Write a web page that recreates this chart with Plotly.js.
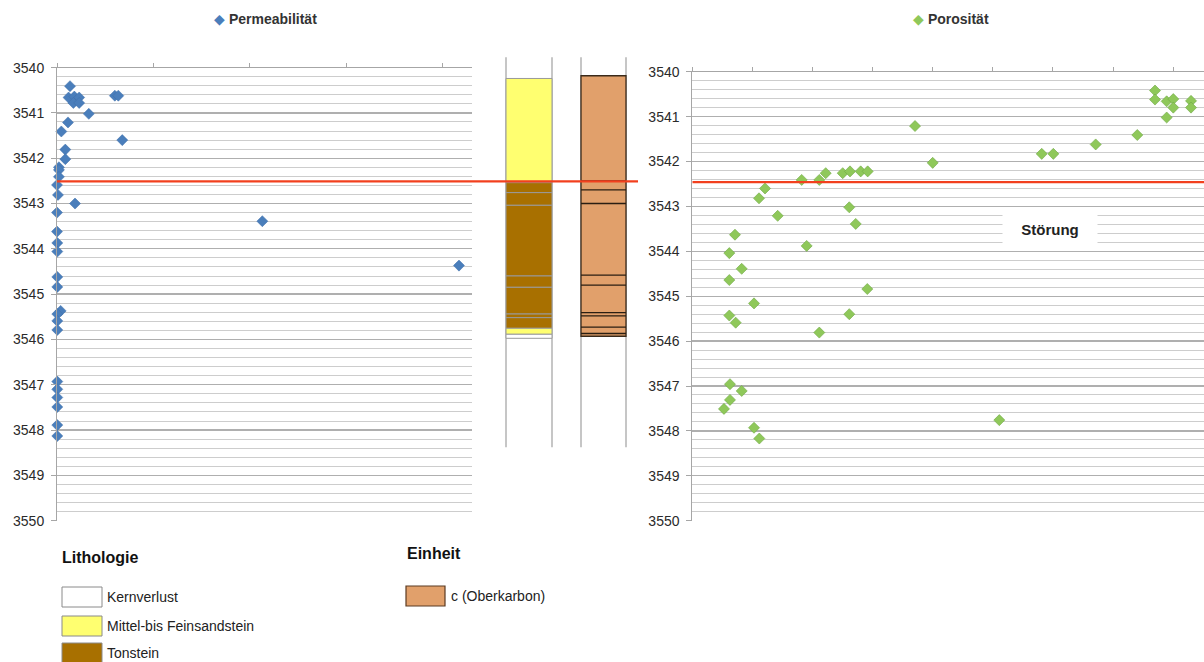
<!DOCTYPE html>
<html><head><meta charset="utf-8">
<script src="https://cdn.plot.ly/plotly-3.0.1.min.js"></script>
<style>html,body{margin:0;padding:0;background:#fff}#chart{width:1204px;height:662px}</style>
</head><body><div id="chart"></div>
<script>
// ---------- DATA ----------
// Permeabilität (x in axis tick units, depth in m)
const permX = [0.135,0.12,0.18,0.23,0.17,0.23,0.60,0.636,0.33,0.114,0.045,0.677,0.086,0.086,0.02,0.02,0.02,0.0,0.01,0.187,0.0,2.13,0.0,0.003,0.003,4.17,0.003,0.003,0.038,0.003,0.003,0.003,0.003,0.003,0.003,0.003,0.003,0.003];
const permDepth = [3540.41,3540.66,3540.64,3540.66,3540.78,3540.78,3540.62,3540.62,3541.02,3541.21,3541.41,3541.60,3541.81,3542.02,3542.20,3542.26,3542.41,3542.59,3542.81,3543.00,3543.20,3543.39,3543.62,3543.87,3544.06,3544.37,3544.62,3544.84,3545.37,3545.44,3545.59,3545.79,3546.93,3547.10,3547.28,3547.49,3547.89,3548.13];
// Porosität
const poroX = [3.706,4.0,1.820,2.113,2.220,2.503,2.624,2.802,2.918,1.210,1.110,1.421,2.612,2.719,0.710,1.903,0.616,0.822,0.616,2.912,1.027,0.616,0.722,2.612,2.113,0.627,0.822,0.627,0.527,1.027,1.115,5.108,5.814,6.007,6.712,7.404,7.699,7.699,7.893,8.003,8.003,7.893,8.298,8.298];
const poroDepth = [3541.21,3542.03,3542.41,3542.41,3542.26,3542.26,3542.22,3542.22,3542.22,3542.60,3542.82,3543.21,3543.02,3543.39,3543.63,3543.88,3544.04,3544.39,3544.64,3544.84,3545.16,3545.43,3545.59,3545.40,3545.81,3546.96,3547.11,3547.31,3547.51,3547.93,3548.17,3547.76,3541.83,3541.83,3541.62,3541.41,3540.42,3540.62,3540.66,3540.61,3540.80,3541.02,3540.65,3540.80];
// Lithologie column
const lithoTop  = [3540.24,3542.54,3542.76,3543.04,3544.60,3544.85,3545.44,3545.52,3545.755,3545.887];
const lithoBase = [3542.54,3542.76,3543.04,3544.60,3544.85,3545.44,3545.52,3545.755,3545.887,3545.976];
const lithoType = ['Mittel-bis Feinsandstein','Tonstein','Tonstein','Tonstein','Tonstein','Tonstein','Tonstein','Tonstein','Mittel-bis Feinsandstein','Kernverlust'];
// Einheit column boundaries
const unitBounds = [3540.18,3542.50,3542.70,3543.00,3544.58,3544.80,3545.41,3545.48,3545.73,3545.87,3545.93];
const unitName = 'c (Oberkarbon)';
// Fault (Störung) depth
const faultDepthLeft = 3542.51;
const faultDepthRight = 3542.46;
const faultLabel = 'Störung';
const depthTicks = [3540,3541,3542,3543,3544,3545,3546,3547,3548,3549,3550];
const lithoLegend = ['Kernverlust','Mittel-bis Feinsandstein','Tonstein'];

// ---------- STYLE ----------
const W = 1204, H = 662;
const px = v => v / W, py = v => 1 - v / H;
const colors = {
  'Kernverlust': '#FFFFFF',
  'Mittel-bis Feinsandstein': '#FFFF70',
  'Tonstein': '#A87000'
};
const unitColor = '#E1A06B';
const blue = '#4A7EBB', green = '#8FC85A';
const fontFam = 'Liberation Sans, Arial, sans-serif';

// column geometry (x3 axis in page pixels)
const col1 = [506, 552], col2 = [581, 626];
const yPxTop = 67.6, mPx = 45.3;
const y3Top = 55, y3Bot = 450;
const y3Range = [3540 + (y3Bot - yPxTop) / mPx, 3540 + (y3Top - yPxTop) / mPx];

const traces = [
  {type:'scatter', mode:'markers', x:permX, y:permDepth, xaxis:'x', yaxis:'y', cliponaxis:false,
   marker:{symbol:'diamond', size:8.5, color:blue, line:{color:'#3F6FA8', width:0.5}}, hoverinfo:'x+y'},
  {type:'scatter', mode:'markers', x:poroX, y:poroDepth, xaxis:'x2', yaxis:'y2', cliponaxis:false,
   marker:{symbol:'diamond', size:8.5, color:green, line:{color:'#6FA744', width:0.6}}, hoverinfo:'x+y'},
  {type:'scatter', mode:'markers', x:[col1[0]], y:[y3Range[1]], xaxis:'x3', yaxis:'y3', marker:{opacity:0}, hoverinfo:'skip'}
];

const shapes = [];
[col1[0], col1[1], col2[0], col2[1]].forEach(x => {
  shapes.push({type:'line', xref:'x3', yref:'y3', x0:x, x1:x, y0:3539.77, y1:3548.38, line:{color:'#A0A0A0', width:1.2}});
});
lithoTop.forEach((t, i) => {
  shapes.push({type:'rect', xref:'x3', yref:'y3', x0:col1[0], x1:col1[1], y0:t, y1:lithoBase[i],
    fillcolor:colors[lithoType[i]], line:{color:'#9A9A9A', width:1}});
});
shapes.push({type:'rect', xref:'x3', yref:'y3', x0:col2[0], x1:col2[1], y0:unitBounds[0], y1:unitBounds[unitBounds.length-1],
  fillcolor:unitColor, line:{color:'#3A2A1A', width:1.3}});
unitBounds.slice(1, -1).forEach(d => {
  shapes.push({type:'line', xref:'x3', yref:'y3', x0:col2[0], x1:col2[1], y0:d, y1:d, line:{color:'#2A1E12', width:1.3}});
});
shapes.push({type:'line', xref:'x3', yref:'y3', x0:57, x1:638, y0:faultDepthLeft, y1:faultDepthLeft, line:{color:'#F2401E', width:2.2}});
shapes.push({type:'line', xref:'x2', yref:'y2', x0:0, x1:8.6, y0:faultDepthRight, y1:faultDepthRight, line:{color:'#F2401E', width:2.2}});
const legY = [587, 616, 643];
lithoLegend.forEach((n, i) => {
  shapes.push({type:'rect', xref:'paper', yref:'paper', x0:px(62), x1:px(102), y0:py(legY[i]), y1:py(legY[i] + 20),
    fillcolor:colors[n], line:{color:'#8A8A8A', width:1}});
});
shapes.push({type:'rect', xref:'paper', yref:'paper', x0:px(406), x1:px(445), y0:py(586), y1:py(606),
  fillcolor:unitColor, line:{color:'#5A3A22', width:1.2}});

const annotations = [
  {xref:'paper', yref:'paper', x:px(265), y:py(19), xanchor:'center', yanchor:'middle', showarrow:false,
   text:'<span style="color:'+blue+'">◆</span> <b>Permeabilität</b>', font:{family:fontFam, size:14, color:'#333'}},
  {xref:'paper', yref:'paper', x:px(951), y:py(19), xanchor:'center', yanchor:'middle', showarrow:false,
   text:'<span style="color:'+green+'">◆</span> <b>Porosität</b>', font:{family:fontFam, size:14, color:'#333'}},
  {xref:'x2', yref:'y2', x:5.95, y:3543.51, showarrow:false, text:'<b>'+faultLabel+'</b>',
   font:{family:fontFam, size:15, color:'#222'}, bgcolor:'#FFFFFF', width:90, height:29, borderpad:2},
  {xref:'paper', yref:'paper', x:px(60), y:py(557), xanchor:'left', yanchor:'middle', showarrow:false,
   text:'<b>Lithologie</b>', font:{family:fontFam, size:16, color:'#111'}},
  {xref:'paper', yref:'paper', x:px(405), y:py(553), xanchor:'left', yanchor:'middle', showarrow:false,
   text:'<b>Einheit</b>', font:{family:fontFam, size:16, color:'#111'}},
  {xref:'paper', yref:'paper', x:px(449), y:py(596), xanchor:'left', yanchor:'middle', showarrow:false,
   text:unitName, font:{family:fontFam, size:14, color:'#222'}}
];
lithoLegend.forEach((n, i) => {
  annotations.push({xref:'paper', yref:'paper', x:px(105), y:py(legY[i] + 10), xanchor:'left', yanchor:'middle', showarrow:false,
    text:n, font:{family:fontFam, size:14, color:'#222'}});
});

const yAxisCommon = {
  range:[3550, 3540], autorange:false, tickvals:depthTicks, showline:true, linecolor:'#A6A6A6', linewidth:1,
  ticks:'outside', ticklen:5, tickcolor:'#A6A6A6', showgrid:true, gridcolor:'#AFAFAF', gridwidth:1.3, zeroline:false,
  tickfont:{family:fontFam, size:14, color:'#2A2A2A'}, ticklabelstandoff:4,
  minor:{dtick:0.2, tick0:3540, showgrid:true, gridcolor:'#CDCDCD', gridwidth:1, ticks:''}
};
const xAxisCommon = {
  side:'top', showgrid:false, zeroline:false, showline:true, linecolor:'#A6A6A6', linewidth:1,
  ticks:'outside', ticklen:4, tickcolor:'#A6A6A6', dtick:1, tick0:0, showticklabels:false, autorange:false
};

const layout = {
  width:W, height:H, margin:{l:0, r:0, t:0, b:0}, paper_bgcolor:'#FFFFFF', plot_bgcolor:'rgba(0,0,0,0)',
  showlegend:false, font:{family:fontFam, color:'#333'},
  xaxis:Object.assign({}, xAxisCommon, {domain:[px(57), px(471.7)], range:[0, 4.302], anchor:'y'}),
  yaxis:Object.assign({}, yAxisCommon, {domain:[py(520.7), py(67.6)], anchor:'x'}),
  xaxis2:Object.assign({}, xAxisCommon, {domain:[px(692.3), 1], range:[0, 8.514], anchor:'y2'}),
  yaxis2:Object.assign({}, yAxisCommon, {domain:[py(520.7), py(71.7)], anchor:'x2'}),
  xaxis3:{domain:[px(57), px(640)], range:[57, 640], visible:false, anchor:'y3', fixedrange:true},
  yaxis3:{domain:[py(y3Bot), py(y3Top)], range:y3Range, visible:false, anchor:'x3', fixedrange:true},
  shapes:shapes, annotations:annotations
};

Plotly.newPlot('chart', traces, layout, {displayModeBar:false, staticPlot:true});
</script>
</body></html>
